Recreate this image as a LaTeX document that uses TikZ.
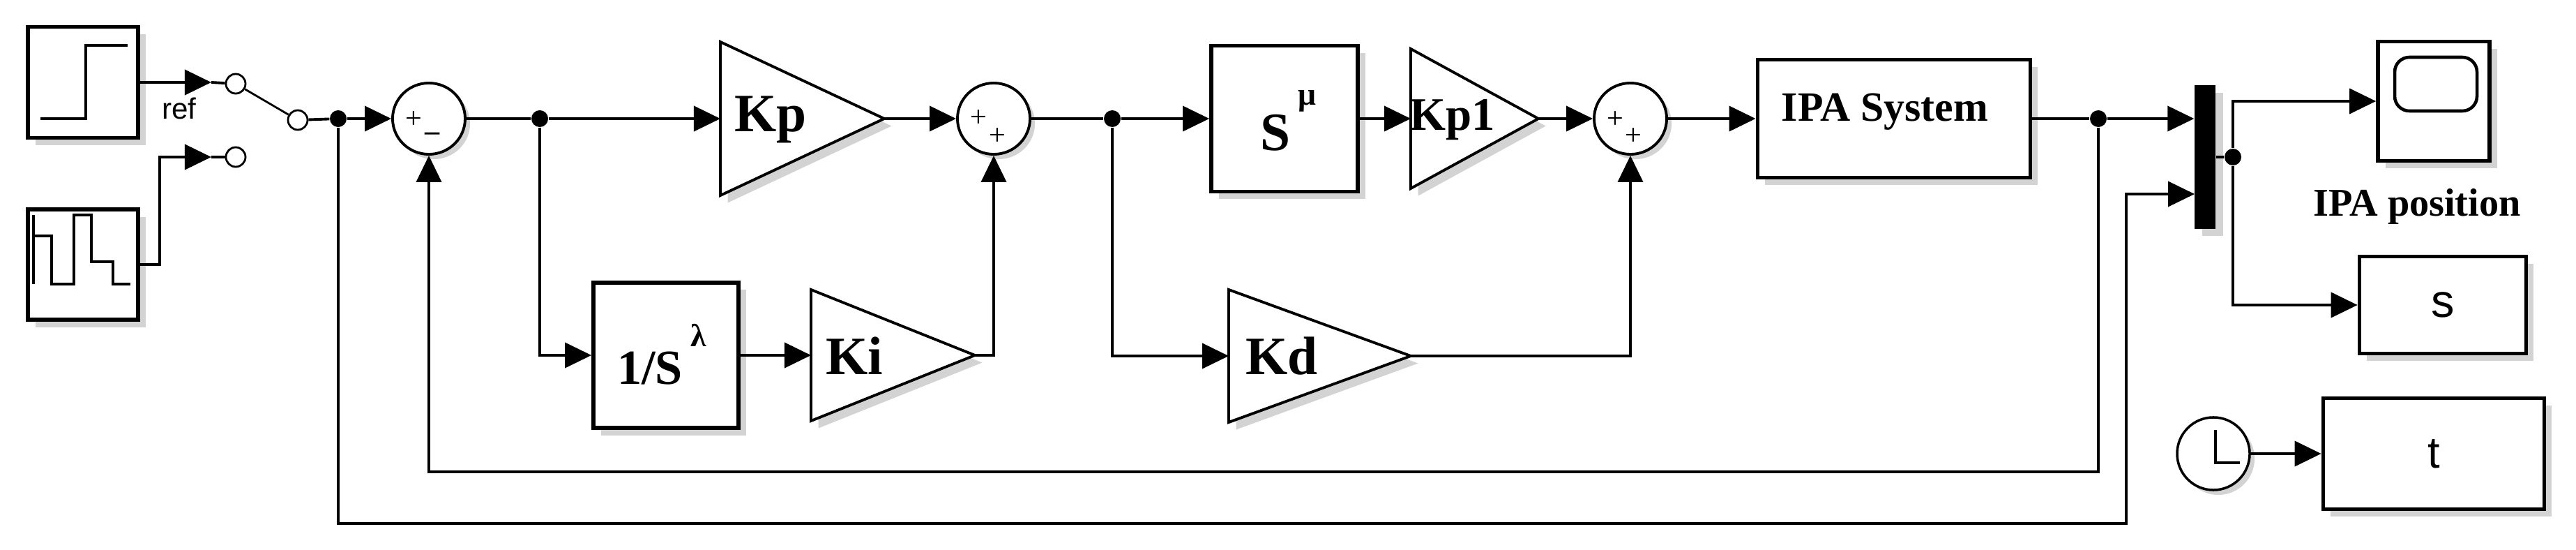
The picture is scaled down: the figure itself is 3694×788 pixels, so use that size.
\documentclass[tikz,border=0pt]{standalone}
\usepackage{fontspec}
\setmainfont{Liberation Serif}
\newfontfamily\sffam{Liberation Sans}
\usetikzlibrary{arrows.meta}
\usetikzlibrary{shadows}
\usepgflibrary{shapes.geometric}
\tikzset{
    blk/.style = {
        draw, rectangle, line width=1.6pt, fill=white, inner sep=0pt,
        drop shadow={shadow xshift=3pt, shadow yshift=-3pt, opacity=0.35}
    },
    sum/.style = {
        draw, ellipse, line width=1.1pt, fill=white, minimum width=1.04cm, minimum height=1.02cm, inner sep=0pt,
        drop shadow={shadow xshift=2pt, shadow yshift=-2pt, opacity=0.35}
    },
    gain/.style = {line width=1.1pt, fill=white, drop shadow={shadow xshift=3pt, shadow yshift=-3pt, opacity=0.35}},
    dot/.style = {circle, fill=black, minimum size=0.24cm, inner sep=0pt},
    port/.style = {circle, draw, line width=0.8pt, minimum size=0.28cm, inner sep=0pt},
    lbl/.style = {font=\bfseries\fontsize{22}{22}\selectfont, inner sep=0pt},
    pm/.style = {font=\fontsize{12}{12}\selectfont, inner sep=0pt},
    wire/.style = {line width=1.1pt},
    sig/.style = {line width=1.1pt, -{Triangle[length=0.38cm, width=0.36cm]}},
}
% gain triangle: name, left x, y, right x, half height
\newcommand{\gainblock}[5]{%
    \draw[gain] (#2,#3-#5) -- (#4,#3) -- (#2,#3+#5) -- cycle;
    \coordinate (#1-in) at (#2,#3);
    \coordinate (#1-out) at (#4,#3);
}
\begin{document}
\begin{tikzpicture}[x=0.01cm, y=-0.01cm]
        \useasboundingbox (0,0) rectangle (3694,788);
        % Sources and switch
        \node[blk, minimum width=1.58cm, minimum height=1.59cm] (step) at (119,118) {};
        \draw[line width=1.1pt] (58,170) -- (123,170) -- (123,65) -- (183,65);
        \node[blk, minimum width=1.58cm, minimum height=1.58cm] (pulse) at (119,379) {};
        \draw[line width=1pt] (48,308) -- (48,407);
        \draw[line width=1pt] (48,338) -- (74,338) -- (74,407) -- (106,407) -- (106,308) -- (131,308) -- (131,375) -- (162,375) -- (162,407) -- (187,407);
        \node[port] (swA) at (338,120) {};
        \node[port] (swB) at (338,225) {};
        \node[port] (swC) at (427,172) {};
        \coordinate (swAin) at (303,118);
        \coordinate (swBin) at (303,225);
        \node[font=\sffam\fontsize{12}{12}\selectfont] (ref) at (257,155) {ref};
        \draw[sig] (step.east) -- (swAin);
        \draw[wire] (swAin) -- (swA);
        \draw[sig] (pulse.east) -- ++(28,0) |- (swBin);
        \draw[wire] (swBin) -- (swB);
        \draw[line width=0.8pt] (swA) -- (swC);

        % PID blocks
        \node[dot] (dA) at (485,170) {};
        \node[sum] (sumA) at (615,170) {};
        \node[pm] at (593,172) {+};
        \node[pm] at (620,196) {\textbf{--}};
        \node[dot] (dB) at (774,170) {};
        \gainblock{kp}{1033}{170}{1268}{110}
        \node[lbl] at (1105,171) {Kp};
        \node[blk, minimum width=2.08cm, minimum height=2.08cm] (int) at (955,509) {};
        \node[lbl, font=\bfseries\fontsize{20}{20}\selectfont] at (932,528) {1/S};
        \node[lbl, font=\bfseries\fontsize{13}{13}\selectfont] at (1002,480) {λ};
        \gainblock{ki}{1163}{509}{1398}{94}
        \node[lbl] at (1225,510) {Ki};
        \node[sum] (sumB) at (1425,170) {};
        \node[pm] at (1403,170) {+};
        \node[pm] at (1430,196) {+};
        \node[dot] (dC) at (1595,170) {};
        \node[blk, minimum width=2.10cm, minimum height=2.09cm] (sd) at (1842,170) {};
        \node[lbl] at (1829,190) {S};
        \node[lbl, font=\bfseries\fontsize{13}{13}\selectfont] at (1874,145) {μ};
        \gainblock{kpa}{2023}{170}{2206}{100}
        \node[lbl, font=\bfseries\fontsize{19}{19}\selectfont] at (2083,172) {Kp1};
        \gainblock{kd}{1762}{510}{2023}{95}
        \node[lbl] at (1838,510) {Kd};
        \node[sum] (sumC) at (2338,170) {};
        \node[pm] at (2316,172) {+};
        \node[pm] at (2342,196) {+};
        \node[blk, minimum width=3.91cm, minimum height=1.69cm] (ipa) at (2716,170) {};
        \node[lbl, font=\bfseries\fontsize{17}{17}\selectfont] at (2703,160) {IPA System};

        % Output side
        \node[dot] (dD) at (3009,170) {};
        \node[rectangle, fill=black, minimum width=0.30cm, minimum height=2.05cm, inner sep=0pt,
              drop shadow={shadow xshift=3pt, shadow yshift=-3pt, opacity=0.35}] (mux) at (3162,225) {};
        \node[dot] (dE) at (3202,225) {};
        \node[blk, minimum width=1.60cm, minimum height=1.71cm] (scope) at (3490,145) {};
        \draw[line width=1.3pt, rounded corners=6pt] (3434,82) rectangle (3552,159);
        \node[lbl, font=\bfseries\fontsize{16}{16}\selectfont] (ipapos) at (3466,296) {IPA position};
        \node[blk, minimum width=2.39cm, minimum height=1.39cm, font=\sffam\fontsize{19}{19}\selectfont] (sbox) at (3503,437) {s};
        \node[blk, minimum width=3.17cm, minimum height=1.59cm, font=\sffam\fontsize{18}{18}\selectfont] (tbox) at (3490,650) {t};
        \node[circle, draw, line width=1pt, fill=white, minimum size=1.04cm, inner sep=0pt,
              drop shadow={shadow xshift=2pt, shadow yshift=-2pt, opacity=0.35}] (clock) at (3174,650) {};
        \draw[line width=1pt] (3177,616) -- (3177,663) -- (3212,663);

        % Connections
        \coordinate (lowA) at (0,676);
        \coordinate (outB) at (3049,750);
        \coordinate (muxB) at (3147,278);
        \draw[wire] (swC) -- (dA);
        \draw[sig] (dA) -- (sumA.west);
        \draw[wire] (sumA.east) -- (dB);
        \draw[sig] (dB) -- (kp-in);
        \draw[sig] (dB) |- (int.west);
        \draw[sig] (int.east) -- (ki-in);
        \draw[sig] (kp-out) -- (sumB.west);
        \draw[sig] (ki-out) -| (sumB.south);
        \draw[wire] (sumB.east) -- (dC);
        \draw[sig] (dC) -- (sd.west);
        \draw[sig] (dC) |- (kd-in);
        \draw[sig] (sd.east) -- (kpa-in);
        \draw[sig] (kpa-out) -- (sumC.west);
        \draw[sig] (kd-out) -| (sumC.south);
        \draw[sig] (sumC.east) -- (ipa.west);
        \draw[wire] (ipa.east) -- (dD);
        \draw[sig] (dD) -- (mux.west |- dD);
        \draw[sig] (dD) |- (sumA.south |- lowA) -- (sumA.south);
        \draw[sig] (dA) |- (outB) |- (muxB);
        \draw[wire] (mux.east |- dE) -- (dE);
        \draw[sig] (dE) |- (scope.west);
        \draw[sig] (dE) |- (sbox.west);
        \draw[sig] (clock.east) -- (tbox.west);
\end{tikzpicture}
\end{document}
